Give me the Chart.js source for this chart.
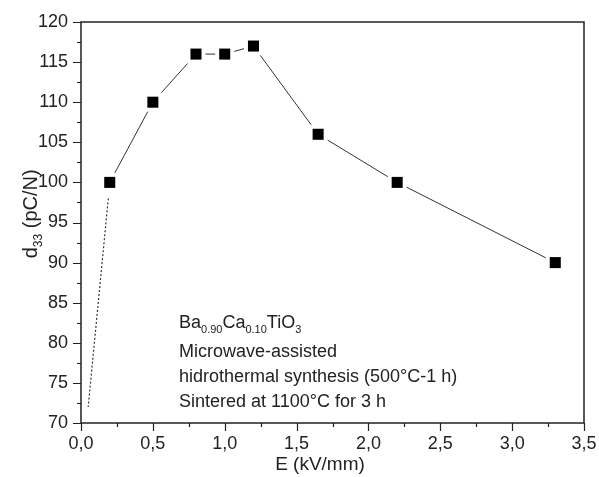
<!DOCTYPE html>
<html>
<head>
<meta charset="utf-8">
<script src="https://cdn.jsdelivr.net/npm/chart.js@4"></script>
<style>
  body { margin: 0; background: #fff; }
  #wrap { width: 599px; height: 477px; }
</style>
</head>
<body>
<div id="wrap"><canvas id="chart" width="599" height="477"></canvas></div>
<script>
// measured points
const eField = [0.2, 0.5, 0.8, 1.0, 1.2, 1.65, 2.2, 3.3];
const d33 = [100, 110, 116, 116, 117, 106, 100, 90];

// dotted extrapolation towards E = 0
const extrapE = [0.19, 0.05];
const extrapD33 = [98, 72];

const noteLines = [
    "Microwave-assisted",
    "hidrothermal synthesis (500°C-1 h)",
    "Sintered at 1100°C for 3 h"
];

const FONT = '"Liberation Sans", Arial, sans-serif';

function toPoints(xs, ys) {
    return xs.map((x, i) => ({ x: x, y: ys[i] }));
}

// draws text made of [main, sub] pieces, returns end x
function drawSubText(ctx, pieces, x, y, size, subSize) {
    pieces.forEach(([main, sub]) => {
        ctx.font = size + "px " + FONT;
        ctx.fillText(main, x, y);
        x += ctx.measureText(main).width;
        if (sub) {
            ctx.font = subSize + "px " + FONT;
            ctx.fillText(sub, x, y + 5);
            x += ctx.measureText(sub).width;
        }
    });
    return x;
}

const framePlugin = {
    id: "frame",
    afterDraw(chart) {
        const { ctx, chartArea: a, scales } = chart;
        ctx.save();
        ctx.strokeStyle = "#222";
        ctx.lineWidth = 1.5;
        ctx.strokeRect(a.left, a.top, a.right - a.left, a.bottom - a.top);

        // ticks: major outward 8px, minor 4px
        ctx.lineWidth = 1.2;
        ctx.beginPath();
        for (let i = 0; i <= 14; i++) {
            const px = Math.round(scales.x.getPixelForValue(i * 0.25)) + 0.5;
            const len = i % 2 === 0 ? 8 : 4;
            ctx.moveTo(px, a.bottom);
            ctx.lineTo(px, a.bottom + len);
        }
        for (let i = 0; i <= 20; i++) {
            const py = Math.round(scales.y.getPixelForValue(70 + i * 2.5)) + 0.5;
            const len = i % 2 === 0 ? 8 : 4;
            ctx.moveTo(a.left, py);
            ctx.lineTo(a.left - len, py);
        }
        ctx.stroke();

        ctx.fillStyle = "#222";
        ctx.textBaseline = "alphabetic";

        // x title
        ctx.font = "19px " + FONT;
        ctx.textAlign = "center";
        ctx.fillText("E (kV/mm)", 320, 470);

        // y title, rotated, with subscript
        ctx.save();
        ctx.translate(37, 214);
        ctx.rotate(-Math.PI / 2);
        ctx.textAlign = "left";
        ctx.font = "20px " + FONT;
        const w = ctx.measureText("d (pC/N)").width + 13;
        drawSubText(ctx, [["d", "33"], [" (pC/N)", null]], -w / 2, 0, 20, 12);
        ctx.restore();

        // annotation
        ctx.textAlign = "left";
        const nx = 179;
        drawSubText(ctx, [["Ba", "0.90"], ["Ca", "0.10"], ["TiO", "3"]], nx, 328, 18, 11);
        ctx.font = "18px " + FONT;
        noteLines.forEach((t, i) => ctx.fillText(t, nx, 357 + i * 25));
        ctx.restore();
    }
};

new Chart(document.getElementById("chart"), {
    type: "scatter",
    data: {
        datasets: [
            {
                // black square markers on top
                data: toPoints(eField, d33),
                showLine: false,
                pointStyle: "rect",
                pointRadius: 7.8,
                pointBackgroundColor: "#000",
                pointBorderWidth: 0
            },
            {
                // connecting line, white squares leave gaps at the markers
                data: toPoints(eField, d33),
                showLine: true,
                borderColor: "#333",
                borderWidth: 1,
                pointStyle: "rect",
                pointRadius: 13.4,
                pointBackgroundColor: "#fff",
                pointBorderWidth: 0
            },
            {
                data: toPoints(extrapE, extrapD33),
                showLine: true,
                borderColor: "#333",
                borderWidth: 1.2,
                borderDash: [2, 2],
                pointRadius: 0
            }
        ]
    },
    options: {
        responsive: false,
        animation: false,
        devicePixelRatio: 1,
        events: [],
        layout: { padding: { top: 22, right: 15, left: 0, bottom: 0 } },
        plugins: {
            legend: { display: false },
            tooltip: { enabled: false }
        },
        scales: {
            x: {
                type: "linear",
                min: 0,
                max: 3.5,
                grid: { display: false, drawTicks: false },
                border: { display: false },
                afterFit(scale) {
                    scale.height = 54;
                    scale.paddingLeft = 0;
                    scale.paddingRight = 0;
                },
                ticks: {
                    stepSize: 0.5,
                    padding: 10,
                    color: "#222",
                    font: { family: FONT, size: 18 },
                    maxRotation: 0,
                    callback: v => v.toFixed(1).replace(".", ",")
                }
            },
            y: {
                min: 70,
                max: 120,
                grid: { display: false, drawTicks: false },
                border: { display: false },
                afterFit(scale) {
                    scale.width = 81;
                    scale.paddingTop = 0;
                    scale.paddingBottom = 0;
                },
                ticks: {
                    stepSize: 5,
                    padding: 13,
                    color: "#222",
                    font: { family: FONT, size: 18 }
                }
            }
        }
    },
    plugins: [framePlugin]
});
</script>
</body>
</html>
